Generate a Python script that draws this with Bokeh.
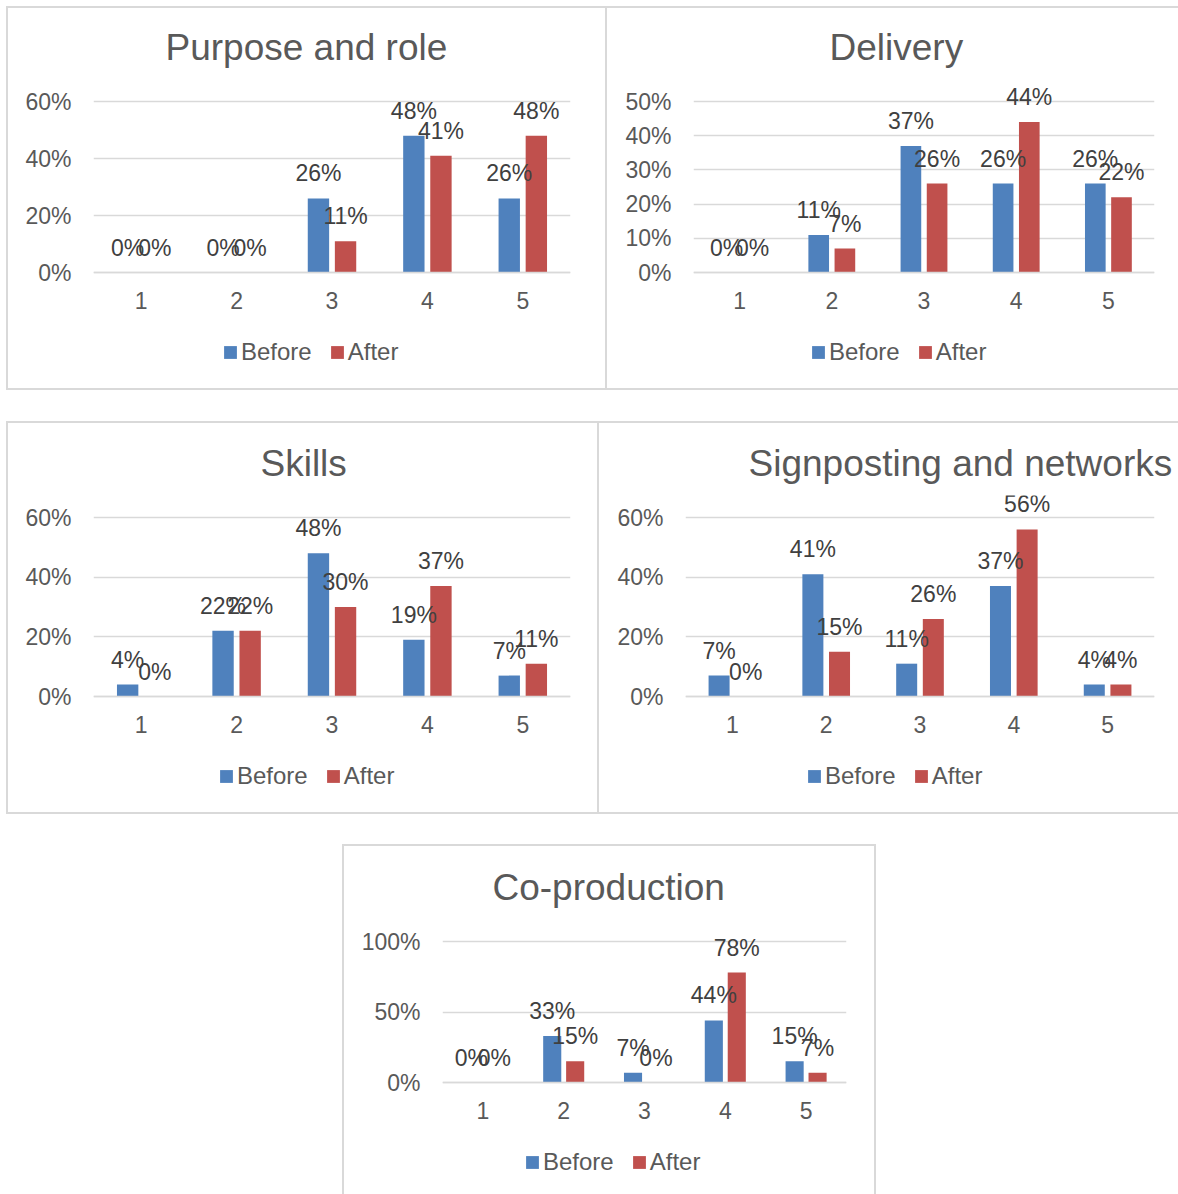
from bokeh.plotting import figure
from bokeh.models import (ColumnDataSource, FixedTicker, NumeralTickFormatter,
                          Range1d, Legend, LegendItem, Spacer)
from bokeh.layouts import row, column
from bokeh.core.properties import value
from bokeh.embed import file_html
from bokeh.resources import INLINE

# ---- data -------------------------------------------------------------
categories = [1, 2, 3, 4, 5]
series_names = ["Before", "After"]

purpose_before = [0.00, 0.00, 0.26, 0.48, 0.26]
purpose_after = [0.00, 0.00, 0.11, 0.41, 0.48]

delivery_before = [0.00, 0.11, 0.37, 0.26, 0.26]
delivery_after = [0.00, 0.07, 0.26, 0.44, 0.22]

skills_before = [0.04, 0.22, 0.48, 0.19, 0.07]
skills_after = [0.00, 0.22, 0.30, 0.37, 0.11]

signposting_before = [0.07, 0.41, 0.11, 0.37, 0.04]
signposting_after = [0.00, 0.15, 0.26, 0.56, 0.04]

coproduction_before = [0.00, 0.33, 0.07, 0.44, 0.15]
coproduction_after = [0.00, 0.15, 0.00, 0.78, 0.07]

ticks_60 = [0.0, 0.2, 0.4, 0.6]
ticks_50 = [0.0, 0.1, 0.2, 0.3, 0.4, 0.5]
ticks_100 = [0.0, 0.5, 1.0]

# ---- style ------------------------------------------------------------
FONT = "Liberation Sans"
BLUE = "#4F81BD"
RED = "#C0504D"
GRID = "#d9d9d9"
TEXT = "#595959"
LABEL = "#404040"
BAR_W = 0.224
DODGE = 0.142

EDGE = {
    "top": "inset 0 2px 0 0 #d9d9d9",
    "bottom": "inset 0 -2px 0 0 #d9d9d9",
    "left": "inset 2px 0 0 0 #d9d9d9",
    "right": "inset -2px 0 0 0 #d9d9d9",
}


def make_panel(title, before, after, ticks, box, frame_lr, zero_y, top_y,
               px_per_unit, title_x, title_standoff, legend_x, edges):
    """box = (left, top, width, height) of the chart in page pixels."""
    bx, by, bw, bh = box
    fl, fr = frame_lr
    bottom_y = by + bh - 8
    y_start = -(bottom_y - zero_y) / px_per_unit
    y_end = (zero_y - top_y) / px_per_unit

    p = figure(width=bw, height=bh, x_range=Range1d(0.5, 5.5),
               y_range=Range1d(y_start, y_end), output_backend="svg",
               toolbar_location=None, min_border_left=fl - bx,
               min_border_right=bx + bw - fr, min_border_top=top_y - by,
               min_border_bottom=by + bh - bottom_y,
               background_fill_color=None, border_fill_color=None,
               outline_line_color=None)
    p.styles = {"box-shadow": ", ".join(EDGE[e] for e in edges)}

    p.title.text = title
    p.title.text_font = FONT
    p.title.text_font_size = "37px"
    p.title.text_font_style = "normal"
    p.title.text_color = TEXT
    p.title.align = "left"
    p.title.offset = title_x - fl
    p.title.standoff = title_standoff

    xb = [c - DODGE for c in categories]
    xa = [c + DODGE for c in categories]
    src = ColumnDataSource(dict(
        xb=xb, xa=xa, before=before, after=after,
        lb=[f"{v:.0%}" for v in before], la=[f"{v:.0%}" for v in after]))

    rb = p.vbar(x="xb", top="before", bottom=0, width=BAR_W, source=src,
                fill_color=BLUE, line_color=None)
    ra = p.vbar(x="xa", top="after", bottom=0, width=BAR_W, source=src,
                fill_color=RED, line_color=None)

    for xcol, ycol, tcol in (("xb", "before", "lb"), ("xa", "after", "la")):
        p.text(x=xcol, y=ycol, text=tcol, source=src, text_align="center",
               text_baseline="middle", y_offset=-25,
               text_font=value(FONT), text_font_size="23px",
               text_color=LABEL)

    # axes
    p.yaxis.ticker = FixedTicker(ticks=ticks)
    p.yaxis.formatter = NumeralTickFormatter(format="0%")
    p.yaxis.axis_line_color = None
    p.yaxis.major_tick_line_color = None
    p.yaxis.minor_tick_line_color = None
    p.yaxis.major_tick_out = 0
    p.yaxis.major_label_standoff = 22
    p.yaxis.major_label_text_font = FONT
    p.yaxis.major_label_text_font_size = "23px"
    p.yaxis.major_label_text_color = TEXT

    p.xaxis.fixed_location = 0
    p.xaxis.ticker = FixedTicker(ticks=categories)
    p.xaxis.axis_line_color = GRID
    p.xaxis.axis_line_width = 1.5
    p.xaxis.major_tick_line_color = None
    p.xaxis.minor_tick_line_color = None
    p.xaxis.major_tick_out = 0
    p.xaxis.major_label_standoff = 19
    p.xaxis.major_label_text_font = FONT
    p.xaxis.major_label_text_font_size = "23px"
    p.xaxis.major_label_text_color = TEXT

    p.xgrid.grid_line_color = None
    p.ygrid.ticker = FixedTicker(ticks=ticks)
    p.ygrid.grid_line_color = GRID
    p.ygrid.grid_line_width = 1.5

    legend_bottom = zero_y + 80 + 13.5
    legend = Legend(
        items=[LegendItem(label=series_names[0], renderers=[rb]),
               LegendItem(label=series_names[1], renderers=[ra])],
        location=(legend_x - 2 - fl, bottom_y - legend_bottom),
        orientation="horizontal",
        padding=0, margin=0, spacing=17, label_standoff=3,
        glyph_width=16, glyph_height=16,
        label_text_font=FONT, label_text_font_size="24px",
        label_text_color=TEXT, border_line_color=None,
        background_fill_color=None)
    p.add_layout(legend)
    return p


p1 = make_panel("Purpose and role", purpose_before, purpose_after, ticks_60,
                (6, 6, 601, 384), (93, 570), 272, 80, 171 / 0.6,
                165, 25, 224, ["top", "bottom", "left", "right"])
p2 = make_panel("Delivery", delivery_before, delivery_after, ticks_50,
                (607, 6, 571, 384), (693, 1154), 272, 80, 171 / 0.5,
                829, 25, 812, ["top", "bottom"])
p3 = make_panel("Skills", skills_before, skills_after, ticks_60,
                (6, 421, 593, 393), (93, 570), 696, 495, 179 / 0.6,
                260, 23, 220, ["top", "bottom", "left", "right"])
p4 = make_panel("Signposting and networks", signposting_before,
                signposting_after, ticks_60,
                (599, 421, 579, 393), (685, 1154), 696, 495, 179 / 0.6,
                748, 23, 808, ["top", "bottom"])
p5 = make_panel("Co-production", coproduction_before, coproduction_after,
                ticks_100, (342, 844, 534, 350), (442, 846), 1082, 915,
                141 / 1.0, 492, 15, 526, ["top", "left", "right"])

page = column(
    Spacer(height=6),
    row(Spacer(width=6), p1, p2),
    Spacer(height=31),
    row(Spacer(width=6), p3, p4),
    Spacer(height=30),
    row(Spacer(width=342), p5),
)

with open("out.html", "w") as f:
    f.write(file_html(page, INLINE))
